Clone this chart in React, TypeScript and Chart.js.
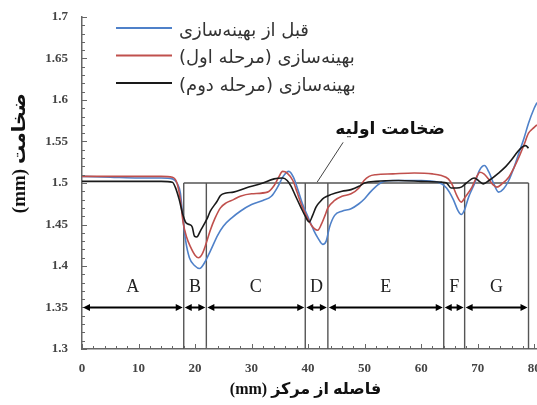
import React, { useEffect, useRef } from 'react';
import { Chart, registerables } from 'chart.js';

Chart.register(...registerables);

// ---- data ----
const blueX = [0, 5, 10, 14, 16, 16.8, 17.4, 17.9, 18.3, 19, 20, 20.8, 21.6, 22.7, 24, 25, 26.5, 28, 30, 32, 33.5, 34.6, 35.6, 36.6, 37.4, 38.2, 39, 40, 41, 41.8, 42.6, 43.2, 43.8, 44.7, 46, 47.6, 49, 50, 51, 52.4, 53.5, 55, 60, 63, 64.5, 65.7, 66.5, 67.1, 67.7, 68.4, 69.5, 70.3, 71.2, 72, 72.8, 73.7, 74.6, 75.5, 76.5, 77.3, 78.2, 79, 80, 80.5];
const blueY = [1.508, 1.507, 1.506, 1.506, 1.505, 1.5, 1.488, 1.455, 1.432, 1.41, 1.4, 1.397, 1.403, 1.418, 1.437, 1.448, 1.458, 1.466, 1.474, 1.479, 1.484, 1.495, 1.508, 1.514, 1.507, 1.492, 1.475, 1.459, 1.443, 1.433, 1.426, 1.43, 1.447, 1.461, 1.466, 1.469, 1.475, 1.481, 1.489, 1.498, 1.502, 1.503, 1.503, 1.501, 1.494, 1.48, 1.467, 1.462, 1.468, 1.483, 1.5, 1.515, 1.521, 1.513, 1.5, 1.489, 1.493, 1.503, 1.52, 1.536, 1.554, 1.572, 1.59, 1.597];

const redX = [0, 5, 10, 14, 16, 16.8, 17.4, 17.9, 18.5, 19.2, 20, 20.6, 21.3, 22, 22.7, 23.5, 24.5, 25.5, 26.8, 28, 30, 32.8, 34, 34.8, 35.5, 36.3, 37.3, 38, 38.7, 39.6, 40.5, 41.1, 41.7, 42.4, 43, 43.5, 44.7, 46, 47.6, 49, 49.9, 50.8, 52, 55, 58.8, 62, 63.6, 64.8, 65.5, 66.3, 67.1, 67.8, 69, 69.8, 70.4, 71.1, 71.9, 72.7, 73.4, 74.3, 75.5, 76.4, 77.3, 78.2, 79, 80, 80.5];
const redY = [1.508, 1.508, 1.508, 1.508, 1.507, 1.5, 1.48, 1.452, 1.435, 1.423, 1.413, 1.41, 1.415, 1.428, 1.443, 1.457, 1.47, 1.476, 1.48, 1.484, 1.487, 1.489, 1.497, 1.507, 1.514, 1.512, 1.503, 1.49, 1.476, 1.462, 1.45, 1.445, 1.443, 1.451, 1.461, 1.47, 1.479, 1.484, 1.487, 1.494, 1.503, 1.508, 1.51, 1.511, 1.512, 1.511, 1.509, 1.505, 1.498, 1.485, 1.477, 1.483, 1.495, 1.507, 1.513, 1.511, 1.505, 1.498, 1.495, 1.499, 1.507, 1.518, 1.531, 1.546, 1.56, 1.567, 1.57];

const blackX = [0, 5, 10, 14, 16, 16.5, 17.2, 17.8, 18.4, 19, 19.5, 19.9, 20.3, 21, 22.2, 22.7, 23.9, 24.5, 25.5, 26.8, 29, 31.6, 34, 35.5, 36.3, 37, 37.8, 38.7, 39.5, 40.2, 40.8, 41.4, 42.2, 42.8, 44, 46, 47.6, 49, 50, 52, 56, 60, 63.6, 64.5, 65.3, 66.3, 67.1, 68, 69.4, 70.3, 71, 72, 73.7, 75, 76, 77, 77.8, 78.5, 79];
const blackY = [1.502, 1.502, 1.502, 1.502, 1.501, 1.495, 1.48, 1.463, 1.452, 1.45, 1.447, 1.436, 1.435, 1.443, 1.458, 1.466, 1.478, 1.485, 1.488, 1.489, 1.494, 1.499, 1.505, 1.506, 1.503, 1.496, 1.484, 1.471, 1.46, 1.453, 1.461, 1.471, 1.478, 1.482, 1.486, 1.49, 1.492, 1.496, 1.5, 1.502, 1.503, 1.502, 1.501, 1.5, 1.494, 1.494, 1.495, 1.5, 1.506, 1.502, 1.499, 1.503, 1.512, 1.52, 1.528, 1.537, 1.543, 1.545, 1.542];

const seriesNames = ['قبل از بهینه\u200cسازی', 'بهینه\u200cسازی (مرحله اول)', 'بهینه\u200cسازی (مرحله دوم)'];
const seriesColors = ['#4F81C9', '#C0504D', '#1a1a1a'];

const zoneEdges = [0, 18, 22, 39.5, 43.5, 64, 67.7, 79];
const zoneLabels = ['A', 'B', 'C', 'D', 'E', 'F', 'G'];
const initialThickness = 1.5;
const arrowLevel = 1.35;
const zoneLabelLevel = 1.374;

const annotationText = 'ضخامت اولیه';
const annotationAt = [54.5, 1.564];
const annotationLine = [[41.6, 1.501], [46.2, 1.549]];

const xTitle = 'فاصله از مرکز (mm)';
const yTitle = 'ضخامت (mm)';

const X_MIN = 0, X_MAX = 80.5, Y_MIN = 1.3, Y_MAX = 1.7;

const toPoints = (xs: number[], ys: number[]) => xs.map((x, i) => ({ x, y: ys[i] }));

const overlayPlugin = {
  id: 'overlay',
  beforeDatasetsDraw(chart: any) {
    const { ctx, scales, chartArea } = chart;
    const x = scales.x, y = scales.y;
    ctx.save();
    ctx.strokeStyle = '#555';
    ctx.lineWidth = 1.4;
    const top = y.getPixelForValue(initialThickness);
    ctx.beginPath();
    ctx.moveTo(x.getPixelForValue(zoneEdges[1]), top);
    ctx.lineTo(x.getPixelForValue(zoneEdges[zoneEdges.length - 1]), top);
    for (let i = 1; i < zoneEdges.length; i++) {
      const px = x.getPixelForValue(zoneEdges[i]);
      ctx.moveTo(px, top);
      ctx.lineTo(px, chartArea.bottom);
    }
    ctx.stroke();
    ctx.restore();
  },
  afterDraw(chart: any) {
    const { ctx, scales, chartArea } = chart;
    const x = scales.x, y = scales.y;
    ctx.save();
    // minor/major inward ticks
    ctx.strokeStyle = '#666';
    ctx.lineWidth = 1;
    ctx.beginPath();
    for (let i = 0; i <= 40; i++) {
      const py = Math.round(y.getPixelForValue(Y_MIN + i * 0.01)) + 0.5;
      const len = i % 5 === 0 ? 5 : 3;
      ctx.moveTo(chartArea.left, py);
      ctx.lineTo(chartArea.left + len, py);
    }
    for (let i = 0; i <= 40; i++) {
      const v = i * 2;
      if (v > X_MAX) break;
      const px = Math.round(x.getPixelForValue(v)) + 0.5;
      const len = i % 5 === 0 ? 5 : 3;
      ctx.moveTo(px, chartArea.bottom);
      ctx.lineTo(px, chartArea.bottom - len);
    }
    ctx.stroke();

    // arrows
    const ay = y.getPixelForValue(arrowLevel);
    ctx.strokeStyle = '#000';
    ctx.fillStyle = '#000';
    ctx.lineWidth = 2;
    for (let i = 0; i < zoneEdges.length - 1; i++) {
      const a = x.getPixelForValue(zoneEdges[i]) + 1;
      const b = x.getPixelForValue(zoneEdges[i + 1]) - 1;
      ctx.beginPath();
      ctx.moveTo(a + 3, ay);
      ctx.lineTo(b - 3, ay);
      ctx.stroke();
      ctx.beginPath();
      ctx.moveTo(a, ay); ctx.lineTo(a + 7, ay - 3.5); ctx.lineTo(a + 7, ay + 3.5); ctx.closePath();
      ctx.moveTo(b, ay); ctx.lineTo(b - 7, ay - 3.5); ctx.lineTo(b - 7, ay + 3.5); ctx.closePath();
      ctx.fill();
    }
    // zone letters
    ctx.font = '18px "Liberation Serif"';
    ctx.fillStyle = '#222';
    ctx.textAlign = 'center';
    ctx.textBaseline = 'middle';
    const ly = y.getPixelForValue(zoneLabelLevel);
    zoneLabels.forEach((l, i) => {
      const cx = (x.getPixelForValue(zoneEdges[i]) + x.getPixelForValue(zoneEdges[i + 1])) / 2;
      ctx.fillText(l, cx, ly);
    });

    ctx.direction = 'rtl';
    // annotation
    ctx.strokeStyle = '#444';
    ctx.lineWidth = 1;
    ctx.beginPath();
    ctx.moveTo(x.getPixelForValue(annotationLine[0][0]), y.getPixelForValue(annotationLine[0][1]));
    ctx.lineTo(x.getPixelForValue(annotationLine[1][0]), y.getPixelForValue(annotationLine[1][1]));
    ctx.stroke();
    ctx.font = 'bold 17px "DejaVu Sans"';
    ctx.fillStyle = '#111';
    ctx.textAlign = 'center';
    ctx.fillText(annotationText, x.getPixelForValue(annotationAt[0]), y.getPixelForValue(annotationAt[1]));

    // legend
    const legTop = chartArea.top + 11;
    const rowGap = 27.5;
    ctx.lineWidth = 2;
    ctx.font = '18px "DejaVu Sans"';
    seriesNames.forEach((name, i) => {
      const ry = legTop + i * rowGap;
      ctx.strokeStyle = seriesColors[i];
      ctx.beginPath();
      ctx.moveTo(chartArea.left + 34, ry);
      ctx.lineTo(chartArea.left + 90, ry);
      ctx.stroke();
      ctx.fillStyle = '#333';
      ctx.textAlign = 'left';
      ctx.fillText(name, chartArea.left + 97, ry + 3);
    });

    // axis titles
    ctx.font = 'bold 16px "Liberation Serif", "DejaVu Sans"';
    ctx.fillStyle = '#111';
    ctx.textAlign = 'center';
    ctx.fillText(xTitle, (chartArea.left + chartArea.right) / 2 - 4, chart.height - 15);
    ctx.font = 'bold 19px "Liberation Serif", "DejaVu Sans"';
    ctx.translate(20, chartArea.top + (chartArea.bottom - chartArea.top) * 0.41);
    ctx.rotate(-Math.PI / 2);
    ctx.fillText(yTitle, 0, 0);
    ctx.restore();
  },
};

export default function App() {
  const ref = useRef<HTMLCanvasElement>(null);
  useEffect(() => {
    if (!ref.current) return;
    const tickFont = { family: '"Liberation Serif"', weight: 'bold' as const, size: 13 };
    const chart = new Chart(ref.current, {
      type: 'line',
      data: {
        datasets: [
          { label: seriesNames[2], data: toPoints(blackX, blackY), borderColor: seriesColors[2], borderWidth: 1.6, pointRadius: 0, cubicInterpolationMode: 'monotone', fill: false },
          { label: seriesNames[1], data: toPoints(redX, redY), borderColor: seriesColors[1], borderWidth: 1.6, pointRadius: 0, cubicInterpolationMode: 'monotone', fill: false },
          { label: seriesNames[0], data: toPoints(blueX, blueY), borderColor: seriesColors[0], borderWidth: 1.6, pointRadius: 0, cubicInterpolationMode: 'monotone', fill: false },
        ],
      },
      options: {
        responsive: false,
        animation: false,
        layout: { padding: { top: 17, left: 0, right: 0, bottom: 0 } },
        plugins: { legend: { display: false }, tooltip: { enabled: false } },
        scales: {
          x: {
            type: 'linear', min: X_MIN, max: X_MAX,
            grid: { display: false, drawTicks: false },
            border: { display: true, color: '#666', width: 1.5 },
            ticks: { stepSize: 10, includeBounds: false, font: tickFont, color: '#444', padding: 12, maxRotation: 0 },
            afterFit: (s: any) => { s.height = 56; s.paddingRight = 0; s.paddingLeft = 0; },
          },
          y: {
            type: 'linear', min: Y_MIN, max: Y_MAX,
            grid: { display: false, drawTicks: false },
            border: { display: true, color: '#666', width: 1.5 },
            ticks: { stepSize: 0.05, font: tickFont, color: '#444', padding: 14, callback: (v: any) => String(Number(Number(v).toFixed(2))) },
            afterFit: (s: any) => { s.width = 82; s.paddingTop = 0; s.paddingBottom = 0; },
          },
        },
      },
      plugins: [overlayPlugin],
    } as any);
    return () => chart.destroy();
  }, []);
  return (
    <canvas ref={ref} width={537} height={405} dir="rtl" style={{ position: 'absolute', left: 0, top: 0, background: '#fff' }} />
  );
}
